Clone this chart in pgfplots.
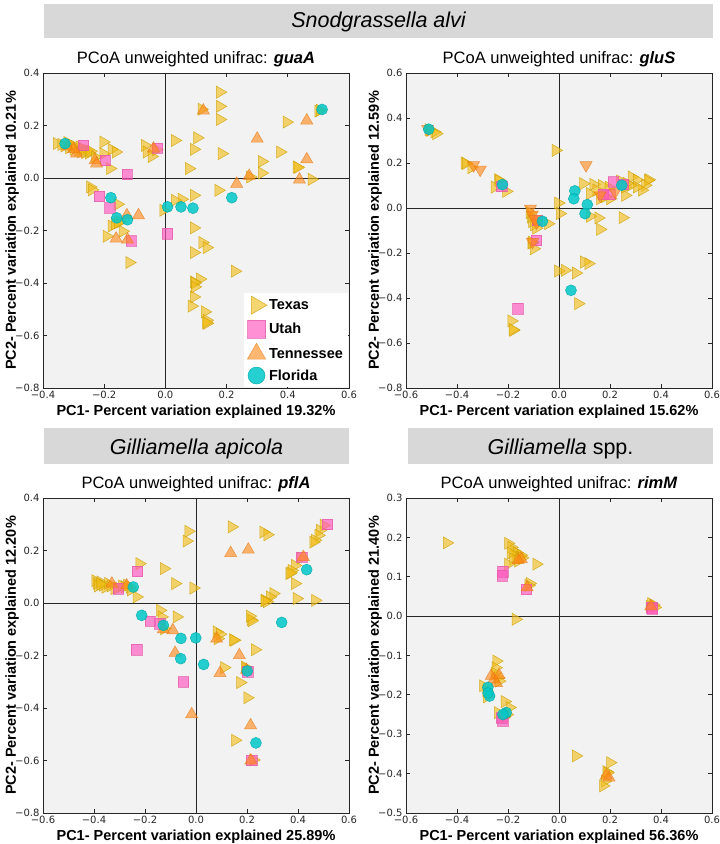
\documentclass[border=0pt]{standalone}
\usepackage{fontspec}
\setmainfont{Liberation Sans}
\newfontfamily\dejavu{DejaVu Sans}
\usepackage{pgfplots}
\pgfplotsset{compat=1.18}
\definecolor{bgc}{RGB}{242,242,242}
\definecolor{hdr}{RGB}{216,216,216}
\definecolor{txf}{RGB}{242,190,25}
\definecolor{txd}{RGB}{205,160,0}
\definecolor{utf}{RGB}{255,85,190}
\definecolor{utd}{RGB}{230,90,170}
\definecolor{tnf}{RGB}{255,135,20}
\definecolor{tnd}{RGB}{230,120,20}
\definecolor{flf}{RGB}{0,200,200}
\definecolor{fld}{RGB}{0,170,170}
\pgfplotsset{
 texas/.style={only marks, mark=triangle*, mark size=7pt, mark options={rotate=-90, fill=txf, draw=txd, fill opacity=0.62, draw opacity=0.8, line width=0.5pt}},
 utah/.style={only marks, mark=square*, mark size=5.3pt, mark options={fill=utf, draw=utd, fill opacity=0.65, draw opacity=0.7, line width=0.5pt}},
 tenn/.style={only marks, mark=triangle*, mark size=7pt, mark options={fill=tnf, draw=tnd, fill opacity=0.6, draw opacity=0.7, line width=0.5pt}},
 tenndown/.style={only marks, mark=triangle*, mark size=7pt, mark options={rotate=180, fill=tnf, draw=tnd, fill opacity=0.6, draw opacity=0.7, line width=0.5pt}},
 flor/.style={only marks, mark=*, mark size=5.5pt, mark options={fill=flf, draw=fld, fill opacity=0.85, draw opacity=0.85, line width=0.5pt}},
 zl/.style={black!85, line width=0.7pt, forget plot},
 pcoa/.style={
  scale only axis, width=306pt, height=315pt, anchor=south west,
  axis background/.style={fill=bgc},
  axis line style={black!85, line width=0.9pt},
  tick align=inside, major tick length=4pt,
  every tick/.style={black!85, line width=0.8pt},
  tick label style={font=\dejavu\fontsize{10}{12}\selectfont, text=black!85},
  every axis title/.style={at={(axis description cs:0.5,1.045)}, anchor=center, font=\fontsize{16.5}{19}\selectfont},
  every axis x label/.style={at={(axis description cs:0.5,-0.076)}, anchor=center, font=\bfseries\fontsize{14.5}{16}\selectfont},
  every axis y label/.style={at={(axis description cs:-0.101,0.5)}, rotate=90, anchor=center, font=\bfseries\fontsize{14.5}{16}\selectfont},
 },
 x6/.style={xmin=-0.6, xmax=0.6, xtick={-0.6,-0.4,-0.2,0,0.2,0.4,0.6}, xticklabels={−0.6,−0.4,−0.2,0.0,0.2,0.4,0.6}},
}
\begin{document}
\begin{tikzpicture}
\path[use as bounding box] (0,0) rectangle (720pt,844pt);
% headers
\fill[hdr] (44pt,806pt) rectangle (713pt,840pt);
\node[anchor=base, font=\itshape\fontsize{21.5}{24}\selectfont] at (378.5pt,816pt) {Snodgrassella alvi};
\fill[hdr] (44pt,380pt) rectangle (349pt,416pt);
\node[anchor=base, font=\itshape\fontsize{21.5}{24}\selectfont] at (196.5pt,389pt) {Gilliamella apicola};
\fill[hdr] (408pt,380pt) rectangle (713pt,416pt);
\node[anchor=base, font=\fontsize{21.5}{24}\selectfont] at (560.5pt,389pt) {\textit{Gilliamella} spp.};

% ---------------- Panel 1: guaA
\begin{axis}[pcoa, at={(43pt,456pt)},
 xmin=-0.4, xmax=0.6, ymin=-0.8, ymax=0.4,
 xtick={-0.4,-0.2,0,0.2,0.4,0.6}, xticklabels={−0.4,−0.2,0.0,0.2,0.4,0.6},
 ytick={-0.8,-0.6,-0.4,-0.2,0,0.2,0.4}, yticklabels={−0.8,−0.6,−0.4,−0.2,0.0,0.2,0.4},
 title={PCoA unweighted unifrac: \textbf{\textit{guaA}}},
 xlabel={PC1- Percent variation explained 19.32\%},
 ylabel={PC2- Percent variation explained 10.21\%},
 legend style={at={(axis cs:0.597,-0.797)}, anchor=south east, fill=white, draw=none, font=\bfseries\fontsize{14.5}{16}\selectfont, inner xsep=3pt, inner ysep=3pt, row sep=5.5pt, cells={anchor=west}},
 legend image code/.code={\draw[#1] plot coordinates {(0.25cm,0cm)};},
]
\addplot[zl] coordinates {(0,-0.8) (0,0.4)};
\addplot[zl] coordinates {(-0.4,0) (0.6,0)};
\addplot[texas, forget plot] coordinates {
(0.178,0.327) (0.178,0.273) (0.178,0.223) (0.118,0.262) (0.500,0.255) (0.505,0.258) (0.396,0.213) (0.375,0.099) (0.315,0.063) (0.315,0.019) (0.429,0.042) (0.432,0.040) (0.277,0.004) (0.478,-0.005) (0.173,-0.047) (0.031,0.143) (0.104,0.153) (0.093,0.109) (0.184,0.093) (0.077,0.036) (0.093,-0.066) (0.053,-0.081) (0.031,-0.085) (-0.007,-0.123) (0.093,-0.190) (0.121,-0.246) (0.135,-0.265) (0.093,-0.284) (0.227,-0.355) (0.113,-0.385) (0.093,-0.396) (0.096,-0.400) (0.096,-0.415) (0.093,-0.453) (0.086,-0.488) (0.129,-0.510) (0.135,-0.542) (0.135,-0.554) (0.133,-0.550)
(-0.355,0.131) (-0.340,0.128) (-0.330,0.122) (-0.320,0.135) (-0.315,0.115) (-0.305,0.125) (-0.300,0.110) (-0.295,0.120) (-0.285,0.105) (-0.280,0.118) (-0.275,0.100) (-0.270,0.110) (-0.262,0.097) (-0.255,0.105) (-0.250,0.095) (-0.245,0.102) (-0.203,0.137) (-0.203,0.093) (-0.176,0.109) (-0.162,0.099) (-0.181,0.036) (-0.230,0.080) (-0.067,0.124) (-0.061,0.099) (-0.045,0.082) (-0.030,0.108) (-0.246,-0.034) (-0.240,-0.045) (-0.156,-0.100) (-0.176,-0.183) (-0.148,-0.167) (-0.140,-0.203) (-0.192,-0.222) (-0.118,-0.322) (-0.165,-0.175) (-0.155,-0.170)
};
\addplot[utah, forget plot] coordinates {(-0.268,0.124) (-0.197,0.067) (-0.125,0.014) (-0.026,0.114) (-0.216,-0.070) (-0.181,-0.114) (-0.112,-0.240) (0.006,-0.212)};
\addplot[tenn, forget plot] coordinates {(0.124,0.257) (0.462,0.219) (0.300,0.150) (0.462,0.071) (0.274,0.008) (0.438,-0.006) (0.233,-0.022) (-0.290,0.093) (-0.300,0.110) (-0.230,0.067) (-0.225,0.055) (-0.039,0.112) (-0.126,-0.142) (-0.088,-0.142) (-0.161,-0.231) (-0.124,-0.235) (-0.320,0.120)};
\addplot[flor, forget plot] coordinates {(0.512,0.261) (0.217,-0.075) (0.007,-0.110) (0.051,-0.110) (0.090,-0.115) (-0.328,0.131) (-0.178,-0.075) (-0.159,-0.152) (-0.124,-0.159)};
\addlegendimage{texas, mark size=10.5pt}\addlegendentry{Texas}
\addlegendimage{utah, mark size=9pt}\addlegendentry{Utah}
\addlegendimage{tenn, mark size=10.5pt}\addlegendentry{Tennessee}
\addlegendimage{flor, mark size=8.5pt}\addlegendentry{Florida}
\end{axis}

% ---------------- Panel 2: gluS
\begin{axis}[pcoa, x6, at={(406pt,456pt)},
 ymin=-0.8, ymax=0.6,
 ytick={-0.8,-0.6,-0.4,-0.2,0,0.2,0.4,0.6}, yticklabels={−0.8,−0.6,−0.4,−0.2,0.0,0.2,0.4,0.6},
 title={PCoA unweighted unifrac: \textbf{\textit{gluS}}},
 xlabel={PC1- Percent variation explained 15.62\%},
 ylabel={PC2- Percent variation explained 12.59\%},
]
\addplot[zl] coordinates {(0,-0.8) (0,0.6)};
\addplot[zl] coordinates {(-0.6,0) (0.6,0)};
\addplot[texas] coordinates {
(-0.511,0.348) (-0.505,0.345) (-0.489,0.338) (-0.482,0.330) (-0.370,0.200) (-0.365,0.198) (-0.344,0.179) (-0.013,0.256) (-0.239,0.126) (-0.236,0.122) (-0.252,0.093) (-0.207,0.074) (-0.003,0.022) (0.003,-0.025) (-0.115,-0.020) (-0.110,-0.040) (-0.105,-0.060) (-0.098,-0.075) (-0.090,-0.090) (-0.043,-0.070) (-0.108,-0.156) (-0.105,-0.152) (-0.099,-0.181) (-0.187,-0.502) (-0.180,-0.544) (-0.182,-0.540) (-0.003,-0.280) (0.023,-0.277) (0.066,-0.289) (0.098,-0.240) (0.115,-0.247) (0.075,-0.425) (0.121,-0.037) (0.154,-0.044) (0.161,-0.095) (0.249,-0.043) (0.095,0.108) (0.135,0.105) (0.168,0.100) (0.195,0.092) (0.240,0.120) (0.285,0.138) (0.305,0.125) (0.351,0.126) (0.348,0.122) (0.338,0.101) (0.325,0.079) (0.305,0.093) (0.259,0.056) (0.259,0.093) (0.121,0.064) (0.161,0.041) (0.200,0.041) (0.147,0.079) (0.180,0.050) (0.280,0.100) (0.265,0.110)
};
\addplot[utah] coordinates {(-0.225,0.096) (-0.089,-0.144) (-0.161,-0.447) (0.213,0.116) (0.252,0.105) (0.174,0.061) (0.200,0.061) (-0.085,-0.055)};
\addplot[tenndown] coordinates {(-0.335,0.190) (-0.309,0.170) (0.106,0.190) (-0.112,-0.003) (-0.105,-0.030) (-0.095,-0.050) (-0.088,-0.065) (-0.104,-0.151) (0.161,0.056) (0.220,0.071) (-0.515,0.352)};
\addplot[flor] coordinates {(-0.511,0.350) (-0.222,0.104) (-0.065,-0.059) (0.047,-0.366) (0.062,0.076) (0.058,0.041) (0.111,0.015) (0.102,-0.025) (0.246,0.101)};
\end{axis}

% ---------------- Panel 3: pflA
\begin{axis}[pcoa, x6, at={(43pt,31pt)},
 ymin=-0.8, ymax=0.4,
 ytick={-0.8,-0.6,-0.4,-0.2,0,0.2,0.4}, yticklabels={−0.8,−0.6,−0.4,−0.2,0.0,0.2,0.4},
 title={PCoA unweighted unifrac: \textbf{\textit{pflA}}},
 xlabel={PC1- Percent variation explained 25.89\%},
 ylabel={PC2- Percent variation explained 12.20\%},
]
\addplot[zl] coordinates {(0,-0.8) (0,0.4)};
\addplot[zl] coordinates {(-0.6,0) (0.6,0)};
\addplot[texas] coordinates {
(-0.030,0.273) (-0.037,0.236) (0.140,0.290) (0.264,0.270) (0.280,0.260) (0.500,0.296) (0.486,0.277) (0.480,0.258) (0.466,0.239) (0.460,0.232) (0.410,0.170) (0.388,0.143) (0.375,0.124) (0.366,0.112) (0.370,0.115) (0.388,0.074) (0.303,0.036) (0.290,0.023) (0.270,0.010) (0.278,0.005) (0.268,0.008) (0.395,0.017) (0.467,0.010) (-0.222,0.150) (-0.126,0.131) (-0.082,0.074) (-0.010,0.057) (-0.233,0.023)
(-0.395,0.085) (-0.390,0.075) (-0.385,0.065) (-0.375,0.080) (-0.365,0.068) (-0.355,0.060) (-0.345,0.075) (-0.335,0.065) (-0.320,0.055) (-0.305,0.058) (-0.290,0.065) (-0.280,0.062) (-0.270,0.068) (-0.260,0.060) (-0.255,0.050) (-0.375,0.072)
(-0.141,-0.028) (-0.135,-0.053) (-0.076,-0.053) (-0.125,-0.098) (0.081,-0.110) (0.094,-0.119) (0.085,-0.136) (0.149,-0.142) (0.145,-0.140) (0.214,-0.063) (0.218,-0.068) (0.211,-0.050) (0.231,-0.178) (0.192,-0.244) (0.195,-0.250) (0.110,-0.246) (0.173,-0.303) (0.201,-0.361) (0.153,-0.523) (0.225,-0.598)
};
\addplot[utah] coordinates {(0.515,0.300) (0.414,0.175) (-0.230,0.121) (-0.305,0.055) (-0.180,-0.069) (-0.141,-0.079) (-0.233,-0.177) (-0.050,-0.301) (0.218,-0.599) (0.202,-0.262)};
\addplot[tenn] coordinates {(0.136,0.190) (0.205,0.203) (0.421,0.175) (-0.330,0.074) (-0.272,0.067) (-0.091,-0.104) (-0.128,-0.100) (-0.082,-0.190) (0.081,-0.136) (0.170,-0.199) (0.094,-0.267) (-0.017,-0.424) (0.214,-0.466) (0.215,-0.600) (0.198,-0.255)};
\addplot[flor] coordinates {(0.434,0.127) (-0.246,0.061) (-0.213,-0.047) (-0.128,-0.085) (-0.059,-0.135) (-0.001,-0.133) (-0.060,-0.212) (0.030,-0.234) (0.201,-0.259) (0.336,-0.074) (0.235,-0.533)};
\end{axis}

% ---------------- Panel 4: rimM
\begin{axis}[pcoa, x6, at={(406pt,31pt)},
 ymin=-0.5, ymax=0.3,
 ytick={-0.5,-0.4,-0.3,-0.2,-0.1,0,0.1,0.2,0.3}, yticklabels={−0.5,−0.4,−0.3,−0.2,−0.1,0.0,0.1,0.2,0.3},
 title={PCoA unweighted unifrac: \textbf{\textit{rimM}}},
 xlabel={PC1- Percent variation explained 56.36\%},
 ylabel={PC2- Percent variation explained 21.40\%},
]
\addplot[zl] coordinates {(0,-0.5) (0,0.3)};
\addplot[zl] coordinates {(-0.6,0) (0.6,0)};
\addplot[texas] coordinates {
(-0.440,0.186) (-0.200,0.185) (-0.187,0.175) (-0.175,0.165) (-0.165,0.160) (-0.155,0.150) (-0.150,0.155) (-0.170,0.150) (-0.190,0.160) (-0.180,0.145) (-0.160,0.140) (-0.145,0.148) (-0.089,0.132) (-0.200,0.132) (-0.115,0.083) (-0.120,0.078) (-0.170,-0.008) (0.361,0.032) (0.370,0.028) (0.355,0.025) (0.375,0.022)
(-0.246,-0.114) (-0.249,-0.131) (-0.240,-0.156) (-0.252,-0.145) (-0.235,-0.165) (-0.298,-0.177) (-0.285,-0.190) (-0.283,-0.205) (-0.213,-0.217) (-0.194,-0.232) (-0.240,-0.245) (-0.215,-0.255) (-0.205,-0.250)
(0.066,-0.355) (0.200,-0.372) (0.186,-0.395) (0.190,-0.398) (0.180,-0.419) (0.173,-0.431)
};
\addplot[utah] coordinates {(-0.220,0.113) (-0.223,0.103) (-0.128,0.068) (0.363,0.022) (0.365,0.018) (-0.220,-0.266) (-0.225,-0.258)};
\addplot[tenn] coordinates {(-0.148,0.145) (-0.160,0.142) (-0.125,0.073) (0.360,0.025) (-0.266,-0.152) (-0.255,-0.160) (-0.245,-0.170) (-0.235,-0.150) (0.196,-0.410) (0.185,-0.405) (-0.215,-0.250)};
\addplot[flor] coordinates {(-0.279,-0.181) (-0.272,-0.203) (-0.278,-0.195) (-0.207,-0.245) (-0.220,-0.250)};
\end{axis}
\end{tikzpicture}
\end{document}
